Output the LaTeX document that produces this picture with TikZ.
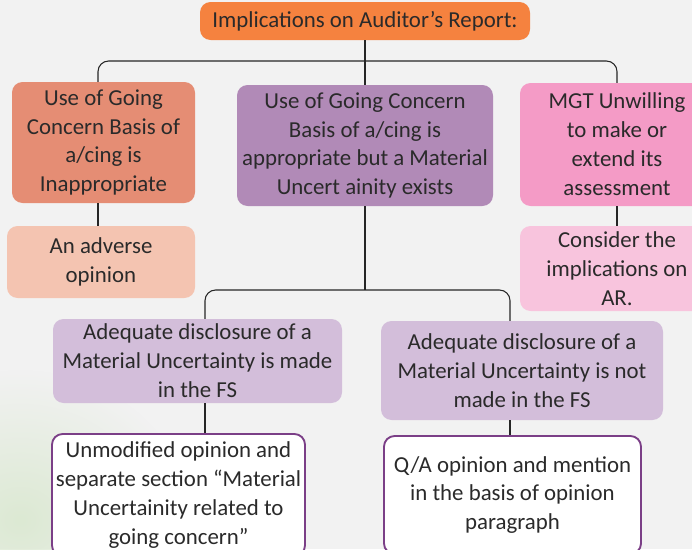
\documentclass[tikz,border=0pt]{standalone}
\usepackage{fontspec}
\setmainfont{Carlito}
\usetikzlibrary{calc,fadings}

\definecolor{bgcol}{HTML}{F2F2F2}
\definecolor{txtcol}{HTML}{2A2A2A}
\definecolor{titlecol}{HTML}{F5823F}
\definecolor{badcol}{HTML}{E58D74}
\definecolor{mucol}{HTML}{B18AB7}
\definecolor{mgtcol}{HTML}{F49BC6}
\definecolor{advcol}{HTML}{F4C4B1}
\definecolor{arcol}{HTML}{F8C4DD}
\definecolor{discol}{HTML}{D3BEDA}
\definecolor{edgecol}{HTML}{7B3F87}
\definecolor{greencol}{HTML}{DCE9D3}

\tikzfading[name=blobfade, inner color=transparent!0, outer color=transparent!100]

\tikzset{
    box/.style={rounded corners=9pt, align=center, text=txtcol,
        font=\fontsize{19.5}{24.7}\selectfont, inner sep=0pt},
    opbox/.style={box, fill=white, draw=edgecol, line width=1.6pt},
    link/.style={draw=black!85, line width=0.9pt, rounded corners=9pt}
}

\begin{document}
\begin{tikzpicture}[x=0.03cm, y=-0.03cm]
    \useasboundingbox (0,0) rectangle (692,549);
    \clip (0,0) rectangle (692,549);
    \fill[bgcol] (0,0) rectangle (692,549);
    \fill[greencol, path fading=blobfade] (20,520) ellipse [x radius=170, y radius=150];

    % top row
    \node[box, fill=titlecol, minimum width=330*0.03cm, minimum height=38*0.03cm] (title) at (365,21) {Implications on Auditor’s Report:};
    \node[box, fill=badcol, minimum width=183*0.03cm, minimum height=121*0.03cm] (inapp) at (103.5,142.5) {Use of Going\\Concern Basis of\\a/cing is\\Inappropriate};
    \node[box, fill=mucol, minimum width=256*0.03cm, minimum height=121*0.03cm] (mu) at (365,145.5) {Use of Going Concern\\Basis of a/cing is\\appropriate but a Material\\Uncert ainity exists};
    \node[box, fill=mgtcol, minimum width=194*0.03cm, minimum height=123*0.03cm] (mgt) at (617,144.5) {MGT Unwilling\\to make or\\extend its\\assessment};

    % second row
    \node[box, fill=advcol, minimum width=188*0.03cm, minimum height=72*0.03cm] (adverse) at (101,262) {An adverse\\opinion};
    \node[box, fill=arcol, minimum width=194*0.03cm, minimum height=85*0.03cm] (consider) at (617,268.5) {Consider the\\implications on\\AR.};

    % disclosure
    \node[box, fill=discol, minimum width=289*0.03cm, minimum height=84*0.03cm] (made) at (197.5,361) {Adequate disclosure of a\\Material Uncertainty is made\\in the FS};
    \node[box, fill=discol, minimum width=282*0.03cm, minimum height=99*0.03cm] (notmade) at (522,370.5) {Adequate disclosure of a\\Material Uncertainty is not\\made in the FS};

    % opinions
    \node[opbox, minimum width=253*0.03cm, minimum height=122*0.03cm] (unmod) at (178.5,495) {Unmodified opinion and\\separate section “Material\\Uncertainity related to\\going concern”};
    \node[opbox, minimum width=257*0.03cm, minimum height=118*0.03cm] (qa) at (512.5,495) {Q/A opinion and mention\\in the basis of opinion\\paragraph};

    \coordinate (bus) at (365,61);
    \coordinate (split) at (365,290);
    \coordinate (stemA) at (98,0);
    \coordinate (stemL) at (205,0);
    \coordinate (stemR) at (510,0);

    % connectors
    \draw[link] (title) -- (mu);
    \draw[link] (inapp.north -| stemA) |- (bus) -| (mgt.north);
    \draw[link] (inapp.south -| stemA) -- (adverse.north -| stemA);
    \draw[link] (mgt) -- (consider);
    \draw[link] (mu) -- (split);
    \draw[link] (made.north -| stemL) |- (split) -| (notmade.north -| stemR);
    \draw[link] (made.south -| stemL) -- (unmod.north -| stemL);
    \draw[link] (notmade.south -| stemR) -- (qa.north -| stemR);
\end{tikzpicture}
\end{document}
